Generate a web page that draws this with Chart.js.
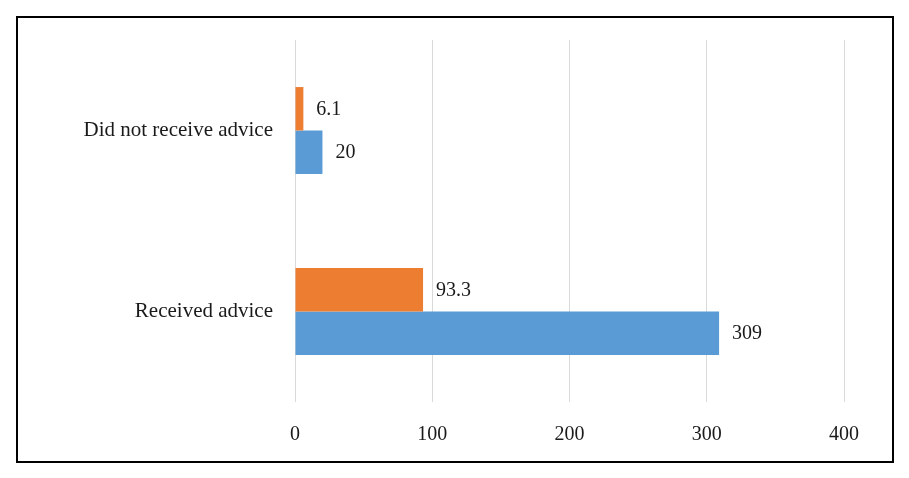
<!DOCTYPE html>
<html>
<head>
<meta charset="utf-8">
<script src="https://cdn.jsdelivr.net/npm/chart.js@4/dist/chart.umd.min.js"></script>
<style>
    html, body { margin: 0; padding: 0; background: #fff; }
    #wrap { position: relative; width: 909px; height: 478px; }
    #frame {
        position: absolute; left: 16px; top: 16px; width: 874px; height: 443px;
        border: 2px solid #000; pointer-events: none;
    }
</style>
</head>
<body>
<div id="wrap">
    <canvas id="adviceChart" width="909" height="478"></canvas>
    <div id="frame"></div>
</div>
<script>
// Data
const categories = ['Did not receive advice', 'Received advice'];
const percentValues = [6.1, 93.3];
const countValues = [20, 309];
const xTicks = [0, 100, 200, 300, 400];

const fonts = { family: "'Liberation Serif', 'Times New Roman', serif", size: 20 };
const catFont = { family: fonts.family, size: 21 };
const textColor = '#1a1a1a';

// Value labels just past the end of each bar
const barLabels = {
    id: 'barLabels',
    afterDatasetsDraw(chart) {
        const ctx = chart.ctx;
        ctx.save();
        ctx.font = fonts.size + 'px ' + fonts.family;
        ctx.fillStyle = textColor;
        ctx.textAlign = 'left';
        ctx.textBaseline = 'middle';
        chart.data.datasets.forEach((ds, i) => {
            chart.getDatasetMeta(i).data.forEach((bar, j) => {
                ctx.fillText(String(ds.data[j]), bar.x + 13, bar.y + 1);
            });
        });
        ctx.restore();
    }
};

new Chart(document.getElementById('adviceChart').getContext('2d'), {
    type: 'bar',
    data: {
        labels: categories,
        datasets: [
            {
                label: 'Percentage',
                data: percentValues,
                backgroundColor: '#ED7D31',
                borderWidth: 0,
                categoryPercentage: 0.48,
                barPercentage: 1
            },
            {
                label: 'Count',
                data: countValues,
                backgroundColor: '#5B9BD5',
                borderWidth: 0,
                categoryPercentage: 0.48,
                barPercentage: 1
            }
        ]
    },
    options: {
        indexAxis: 'y',
        responsive: false,
        animation: false,
        layout: { padding: { top: 40, right: 65, bottom: 31, left: 0 } },
        plugins: {
            legend: { display: false },
            tooltip: { enabled: false }
        },
        scales: {
            x: {
                min: 0,
                max: 400,
                afterBuildTicks: (axis) => { axis.ticks = xTicks.map(v => ({ value: v })); },
                afterFit: (axis) => { axis.height = 45; },
                border: { display: false },
                grid: { color: '#D9D9D9', lineWidth: 1, drawTicks: false },
                ticks: { font: fonts, color: textColor, padding: 21 }
            },
            y: {
                afterFit: (axis) => { axis.width = 295; },
                border: { display: false },
                grid: { display: false, drawTicks: false },
                ticks: { font: catFont, color: textColor, padding: 22 }
            }
        }
    },
    plugins: [barLabels]
});
</script>
</body>
</html>
